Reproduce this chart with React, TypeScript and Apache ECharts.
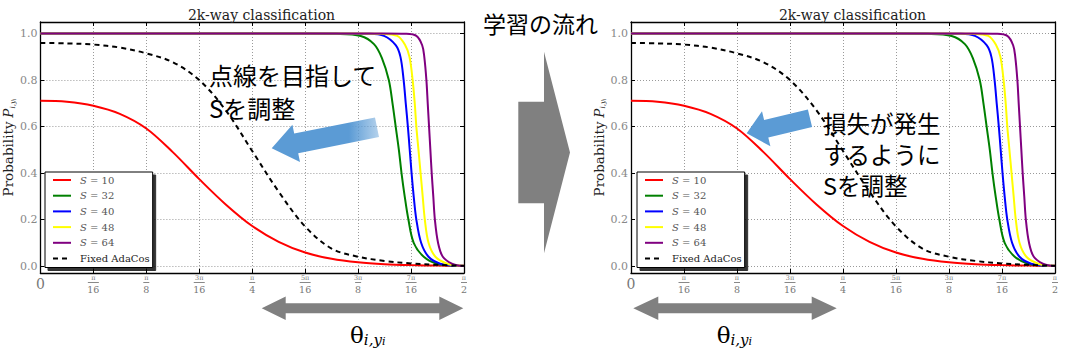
import React, { useEffect, useRef } from "react";
import * as echarts from "echarts";

// ---------- data (x in units of π/16, y = probability) ----------
const xTickLabels = ["0", "π/16", "π/8", "3π/16", "π/4", "5π/16", "3π/8", "7π/16", "π/2"];
const yTickValues = [0, 0.2, 0.4, 0.6, 0.8, 1.0];
const seriesNames = ["S = 10", "S = 32", "S = 40", "S = 48", "S = 64", "Fixed AdaCos"];
const seriesColors = ["#ff0000", "#008000", "#0000ff", "#ffff00", "#800080", "#000000"];
const panelTitle = "2k-way classification";

const s10 = [[0, 0.711], [0.5, 0.707], [1, 0.69], [1.5, 0.655], [2, 0.592], [2.5, 0.49], [3, 0.374], [3.5, 0.265], [4, 0.172], [4.5, 0.104], [5, 0.058], [5.5, 0.031], [6, 0.016], [6.5, 0.008], [7, 0.004], [7.5, 0.002], [8, 0.001]];
const s32 = [[0, 1], [5, 1], [5.6, 0.999], [6.05, 0.99], [6.3, 0.955], [6.45, 0.895], [6.58, 0.8], [6.65, 0.7], [6.71, 0.6], [6.77, 0.5], [6.82, 0.4], [6.88, 0.3], [6.95, 0.2], [7.05, 0.1], [7.24, 0.04], [7.49, 0.01], [7.8, 0.002], [8, 0]];
const s40 = [[0, 1], [5.5, 1], [6.2, 0.999], [6.49, 0.99], [6.71, 0.95], [6.8, 0.9], [6.86, 0.8], [6.9, 0.7], [6.94, 0.6], [6.975, 0.5], [7.01, 0.4], [7.05, 0.3], [7.1, 0.2], [7.19, 0.1], [7.33, 0.04], [7.55, 0.01], [7.85, 0.001], [8, 0]];
const s48 = [[0, 1], [6, 1], [6.45, 0.999], [6.74, 0.99], [6.89, 0.95], [6.97, 0.9], [7.03, 0.8], [7.07, 0.7], [7.1, 0.6], [7.14, 0.5], [7.18, 0.4], [7.22, 0.3], [7.26, 0.2], [7.33, 0.1], [7.46, 0.04], [7.68, 0.01], [7.9, 0.001], [8, 0]];
const s64 = [[0, 1], [6.5, 1], [6.9, 0.999], [7.1, 0.99], [7.21, 0.95], [7.25, 0.9], [7.29, 0.8], [7.315, 0.7], [7.34, 0.6], [7.365, 0.5], [7.39, 0.4], [7.42, 0.3], [7.45, 0.2], [7.51, 0.1], [7.6, 0.04], [7.77, 0.01], [7.92, 0.001], [8, 0]];
const fixedAdaCos = [[0, 0.96], [0.5, 0.958], [1, 0.953], [1.5, 0.94], [2, 0.915], [2.5, 0.877], [3, 0.8], [3.5, 0.67], [4, 0.495], [4.5, 0.32], [5, 0.17], [5.5, 0.075], [6, 0.04], [6.5, 0.022], [7, 0.011], [7.5, 0.005], [8, 0.001]];
const allSeriesData = [s10, s32, s40, s48, s64, fixedAdaCos];

// ---------- layout ----------
const panels = [
  { left: 39, width: 425, titleX: 256.5, legendLeft: 45 },
  { left: 631, width: 424, titleX: 847.5, legendLeft: 637 },
];
const SERIF = "DejaVu Serif";
const CJK = "Noto Sans CJK JP";
const GRAY = "#808080";
const BLUE = "#5B9BD5";

function xLabel(v: number): string {
  const s = xTickLabels[Math.round(v)] ?? "";
  if (!s.includes("/")) return `{z|${s}}`;
  const [n, d] = s.split("/");
  return `{n|${n}}\n{${d.length > 1 ? "b2" : "b1"}| }\n{d|${d}}`;
}

function legendLabel(name: string): string {
  if (name.startsWith("S = ")) return `{sp| }{it|S}{g| = ${name.slice(4)}}`;
  return `{sp| }{f|${name}}`;
}

function buildOption() {
  const grid: any[] = [];
  const xAxis: any[] = [];
  const yAxis: any[] = [];
  const series: any[] = [];
  const legend: any[] = [];
  const title: any[] = [];
  const frameLine = { show: true, onZero: false, lineStyle: { color: "#000", width: 1.3 } };
  const innerTick = { show: true, inside: true, length: 4, lineStyle: { color: "#000", width: 1 } };
  const gridLine = { show: true, lineStyle: { color: "#9a9a9a", type: [1, 2], width: 1 } };

  panels.forEach((p, i) => {
    grid.push({ left: p.left, top: 22, width: p.width, height: 251 });
    xAxis.push({
      type: "value", gridIndex: i, min: 0, max: 8, interval: 1, position: "bottom",
      axisLine: frameLine, axisTick: innerTick, splitLine: gridLine,
      axisLabel: {
        margin: 1, formatter: xLabel, color: "#777",
        rich: {
          z: { fontFamily: SERIF, fontSize: 14, color: "#777", lineHeight: 20 },
          n: { fontFamily: SERIF, fontSize: 6.5, color: "#777", lineHeight: 7 },
          b1: { width: 6, height: 1, backgroundColor: "#888", lineHeight: 3, fontSize: 1 },
          b2: { width: 11, height: 1, backgroundColor: "#888", lineHeight: 3, fontSize: 1 },
          d: { fontFamily: SERIF, fontSize: 9.5, color: "#777", lineHeight: 10 },
        },
      },
    });
    xAxis.push({
      type: "value", gridIndex: i, min: 0, max: 8, interval: 1, position: "top",
      axisLine: frameLine, axisTick: innerTick, splitLine: { show: false }, axisLabel: { show: false },
    });
    yAxis.push({
      type: "value", gridIndex: i, min: -0.03, max: 1.05, position: "left",
      axisLine: frameLine,
      axisTick: { ...innerTick, customValues: yTickValues },
      splitLine: gridLine,
      axisLabel: {
        customValues: yTickValues, formatter: (v: number) => v.toFixed(1),
        margin: 3, color: "#888", fontFamily: SERIF, fontSize: 11,
      },
      name: "{r|Probability} {p|P}{s|i,y}{u|i}",
      nameLocation: "middle", nameRotate: 90, nameGap: 24,
      nameTextStyle: {
        rich: {
          r: { fontFamily: SERIF, fontSize: 13.5, color: "#222", lineHeight: 16 },
          p: { fontFamily: SERIF, fontSize: 13.5, fontStyle: "italic", color: "#222", lineHeight: 16 },
          s: { fontFamily: SERIF, fontSize: 7, fontStyle: "italic", color: "#222", lineHeight: 9, verticalAlign: "bottom" },
          u: { fontFamily: SERIF, fontSize: 5, fontStyle: "italic", color: "#222", lineHeight: 6, verticalAlign: "bottom" },
        },
      },
    });
    yAxis.push({
      type: "value", gridIndex: i, min: -0.03, max: 1.05, position: "right",
      axisLine: frameLine, axisTick: { ...innerTick, customValues: yTickValues },
      splitLine: { show: false }, axisLabel: { show: false },
    });
    allSeriesData.forEach((d, k) => {
      series.push({
        type: "line", name: seriesNames[k], xAxisIndex: 2 * i, yAxisIndex: 2 * i,
        data: d, symbol: "none", smooth: 0.35,
        lineStyle: { color: seriesColors[k], width: 2, type: k === 5 ? [5, 4] : "solid" },
        itemStyle: { color: seriesColors[k] },
      });
    });
    legend.push({
      left: p.legendLeft, top: 172, orient: "vertical", data: seriesNames,
      itemWidth: 18, itemHeight: 10, itemGap: 5.7, padding: [3, 3, 4, 7],
      backgroundColor: "#fff", borderColor: "#000", borderWidth: 1,
      shadowColor: "rgba(0,0,0,0.8)", shadowOffsetX: 3, shadowOffsetY: 3, shadowBlur: 0,
      selectedMode: false, formatter: legendLabel,
      itemStyle: { opacity: 0 },
      lineStyle: { width: 2 },
      textStyle: {
        fontFamily: SERIF, fontSize: 10, color: "#555",
        rich: {
          sp: { width: 4, fontSize: 10 },
          it: { fontFamily: SERIF, fontSize: 10, fontStyle: "italic", color: "#555" },
          g: { fontFamily: SERIF, fontSize: 10, color: "#555" },
          f: { fontFamily: SERIF, fontSize: 10, color: "#222" },
        },
      },
    });
    title.push({
      text: panelTitle, left: p.titleX, top: 3, textAlign: "center",
      textStyle: { fontFamily: SERIF, fontSize: 14, fontWeight: "normal", color: "#222" },
    });
  });

  const thetaRich = {
    t: { fontFamily: SERIF, fontSize: 23, color: "#111", lineHeight: 24 },
    s: { fontFamily: SERIF, fontSize: 15, fontStyle: "italic", color: "#111", lineHeight: 15, verticalAlign: "bottom" },
    u: { fontFamily: SERIF, fontSize: 11, fontStyle: "italic", color: "#111", lineHeight: 10, verticalAlign: "bottom" },
  };

  const doubleArrow = (l: number, r: number, cy: number, head: number) => [
    [l, cy], [l + head, cy - 11.7], [l + head, cy - 5], [r - head, cy - 5], [r - head, cy - 11.7],
    [r, cy], [r - head, cy + 11.7], [r - head, cy + 5], [l + head, cy + 5], [l + head, cy + 11.7],
  ];

  const graphic: any[] = [
    // left blue arrow
    {
      type: "polygon", z: 100,
      shape: { points: [[271.7, 148.3], [292.4, 124.7], [294.2, 133.5], [375, 117.5], [379, 137.1], [298.2, 153.2], [300, 162]] },
      style: {
        fill: new echarts.graphic.LinearGradient(0, 0, 1, 0, [
          { offset: 0, color: BLUE }, { offset: 0.72, color: BLUE }, { offset: 1, color: "rgba(91,155,213,0.45)" },
        ]),
      },
    },
    // right blue arrow
    {
      type: "polygon", z: 100,
      shape: { points: [[746.7, 133.3], [762, 111.2], [764.1, 119.9], [807.9, 109.6], [812.1, 127.1], [768.3, 137.5], [770.4, 146.2]] },
      style: { fill: BLUE },
    },
    // middle big arrow
    {
      type: "polygon", z: 100,
      shape: { points: [[518.3, 101.7], [544, 101.7], [544, 51.7], [570, 152.5], [544, 253.3], [544, 203.3], [518.3, 203.3]] },
      style: { fill: GRAY },
    },
    // double arrows
    { type: "polygon", z: 100, shape: { points: doubleArrow(261.7, 463.3, 308.3, 24) }, style: { fill: GRAY } },
    { type: "polygon", z: 100, shape: { points: doubleArrow(633.3, 836.7, 308.3, 25) }, style: { fill: GRAY } },
    // texts
    {
      type: "text", z: 110, x: 209, y: 58,
      style: { text: "点線を目指して\nSを調整", fontFamily: CJK, fontSize: 24, lineHeight: 33, fill: "#000", verticalAlign: "top" },
    },
    {
      type: "text", z: 110, x: 823, y: 108,
      style: { text: "損失が発生\nするように\nSを調整", fontFamily: CJK, fontSize: 23.5, lineHeight: 30.7, fill: "#000", verticalAlign: "top" },
    },
    {
      type: "text", z: 110, x: 483, y: 23,
      style: { text: "学習の流れ", fontFamily: CJK, fontSize: 23, fill: "#000", verticalAlign: "middle" },
    },
    {
      type: "text", z: 110, x: 350, y: 335,
      style: { text: "{t|θ}{s|i,y}{u|i}", rich: thetaRich, verticalAlign: "middle" },
    },
    {
      type: "text", z: 110, x: 716.7, y: 335,
      style: { text: "{t|θ}{s|i,y}{u|i}", rich: thetaRich, verticalAlign: "middle" },
    },
  ];

  return {
    animation: false,
    backgroundColor: "#fff",
    textStyle: { fontFamily: SERIF },
    title, grid, xAxis, yAxis, series, legend, graphic,
  };
}

export default function App() {
  const ref = useRef<HTMLDivElement>(null);
  useEffect(() => {
    document.body.style.margin = "0";
    if (!ref.current) return;
    const chart = echarts.init(ref.current, undefined, { renderer: "svg" });
    chart.setOption(buildOption() as any);
    return () => chart.dispose();
  }, []);
  return <div ref={ref} style={{ width: 1066, height: 358 }} />;
}
